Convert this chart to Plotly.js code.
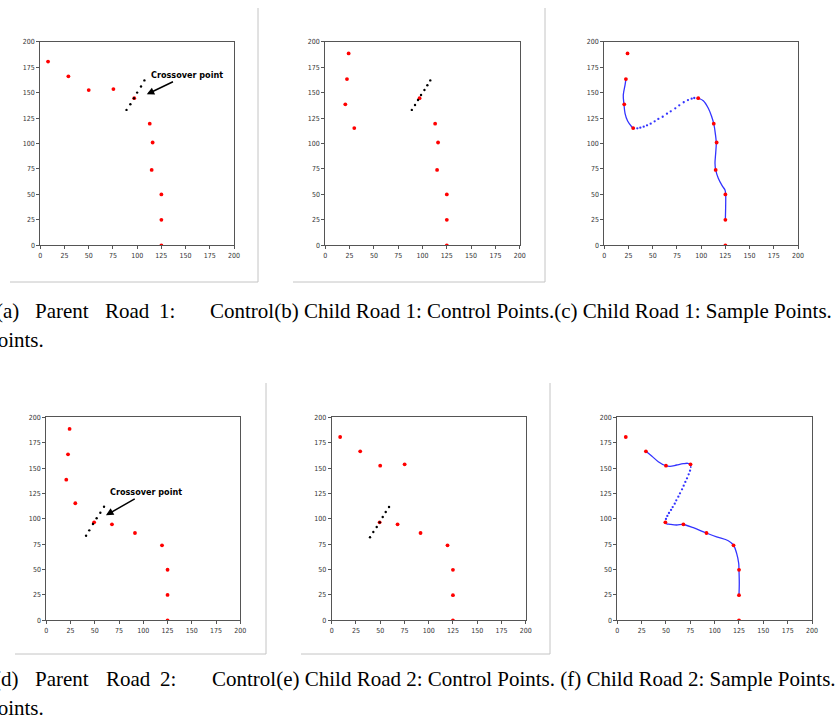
<!DOCTYPE html>
<html>
<head>
<meta charset="utf-8">
<script src="https://cdn.plot.ly/plotly-3.0.1.min.js"></script>
<style>html,body{margin:0;padding:0;background:#fff;}#chart{width:839px;height:717px;}</style>
</head>
<body>
<div id="chart"></div>
<script>
// ---------------- DATA ----------------
const tickValues = [0, 25, 50, 75, 100, 125, 150, 175, 200];
const tickLabels = ["0", "25", "50", "75", "100", "125", "150", "175", "200"];

// Road 1
const parent1X = [8, 29, 50, 75.5, 97, 113, 116, 115, 125, 125, 125];
const parent1Y = [180.5, 166, 152.5, 153.5, 144.5, 119.5, 101, 74, 50, 25, 0];
const crossA_X = [89, 93, 96.7, 100, 104, 107.5];
const crossA_Y = [133, 138.5, 144.4, 150, 156, 162];
const child1X = [24, 22.3, 20.6, 29.8, 97, 113, 116, 115, 125, 125, 125];
const child1Y = [188.5, 163.3, 138.5, 115.2, 144.5, 119.5, 101, 74, 50, 25, 0];
const crossB_X = [89, 92.3, 95.4, 98.5, 102, 105, 108];
const crossB_Y = [133, 137.8, 142.7, 147.6, 152.5, 157.2, 162];
const sample1DenseAX = [22.3, 21.4, 19.6, 20.3, 21.4, 24.1, 28.3, 29.8, 31.7];
const sample1DenseAY = [163, 157.4, 147.6, 138.8, 129.7, 122.1, 116.5, 115.2, 114.5];
const sample1SparseX = [34.1, 37.2, 40.7, 44.1, 47.9, 52, 55.8, 60.3, 64.7, 68.6, 73.3, 77.4, 82, 86.4, 90.2, 92.9];
const sample1SparseY = [114.9, 115.5, 116.5, 117.9, 119.5, 121.8, 124.1, 126.3, 129.3, 131.6, 134.6, 137.5, 140.5, 142.7, 144, 144.7];
const sample1DenseBX = [95.4, 97, 102.2, 107.4, 110.9, 113, 114.6, 115.6, 115, 114.3, 115, 117.7, 121.8, 124.6, 125.3, 125.3, 125];
const sample1DenseBY = [145, 144.5, 142, 134.6, 126.3, 119.5, 110, 100.8, 90.4, 80.5, 74, 65.8, 58.3, 54.3, 50, 37.9, 25];

// Road 2
const parent2X = [24, 22.4, 20.6, 29.9, 49.3, 67.7, 91.4, 119.3, 125, 125, 125];
const parent2Y = [188.5, 163.5, 138.5, 115.3, 96.5, 94.6, 86, 73.9, 49.8, 25, 0];
const crossD_X = [41, 44.3, 48.1, 51.9, 55.7, 59.5];
const crossD_Y = [83.3, 88.6, 94.9, 100.5, 106, 111.9];
const child2X = [8.7, 29.4, 50, 75.2, 49.4, 67.9, 91.6, 119.4, 125, 125, 125];
const child2Y = [180.6, 166.5, 152.3, 153.7, 96.5, 94.6, 86, 73.9, 49.7, 24.8, 0];
const crossE_X = [39.5, 42.9, 46.4, 49.5, 52.6, 55.7, 59.1];
const crossE_Y = [81.8, 87, 91.9, 96.5, 101.8, 106.7, 111.6];
const sample2DenseAX = [29.3, 35.3, 42.1, 49.3, 54.1, 61, 67.8, 72.3, 75, 75.5];
const sample2DenseAY = [166.5, 161.9, 156.3, 152.5, 151.7, 153, 154.3, 154.7, 153.8, 150];
const sample2SparseX = [74.7, 73.3, 71.6, 69.9, 68.2, 66.5, 64.4, 62.7, 60.6, 59, 56.9, 55.2, 53.1, 51.4, 50];
const sample2SparseY = [147.4, 143.8, 139.9, 136.3, 132.6, 129, 125.1, 121.8, 118.2, 114.9, 111.6, 108.7, 105.7, 102.8, 99.8];
const sample2DenseBX = [49.3, 50.5, 54.1, 61, 67.6, 78.1, 91.4, 102, 114, 119.5, 122.6, 124.7, 125, 125.3, 125];
const sample2DenseBY = [97.5, 95.2, 94.6, 93.9, 94.4, 91.2, 86, 82.2, 78.4, 73.8, 66, 56.2, 49.6, 36.5, 24.8];

// Arrow annotations: [headX, headY, textX, textY]
const arrowA = [109.9, 148.3, 151, 167];
const arrowD = [61.5, 103.4, 102.8, 126.1];
const arrowText = "Crossover point";

const captions = [
  {t: "(a)", px: 21, py: 311, a: "right"},
  {t: "Parent", px: 61.5, py: 311, a: "center"},
  {t: "Road", px: 127, py: 311, a: "center"},
  {t: "1:", px: 167, py: 311, a: "center"},
  {t: "Control(b) Child Road 1: Control Points.(c) Child Road 1: Sample Points.", px: 208, py: 311, a: "left"},
  {t: "Points.", px: 46, py: 340, a: "right"},
  {t: "(d)", px: 21, py: 679, a: "right"},
  {t: "Parent", px: 62, py: 679, a: "center"},
  {t: "Road", px: 128, py: 679, a: "center"},
  {t: "2:", px: 167.5, py: 679, a: "center"},
  {t: "Control(e) Child Road 2: Control Points. (f) Child Road 2: Sample Points.", px: 210, py: 679, a: "left"},
  {t: "Points.", px: 46, py: 708, a: "right"}
];

// ---------------- LAYOUT ----------------
const W = 839, H = 717;
const px = v => v / W;
const py = v => 1 - v / H;

// plot areas in pixels: [left, right, top, bottom]
const panels = [
  [40.3, 234, 41.7, 245.3],
  [325.3, 519.7, 41.7, 245.3],
  [604.3, 798, 41.7, 245.3],
  [46.3, 240.3, 417.3, 620.3],
  [331.7, 525.7, 417.3, 620.3],
  [617.3, 812, 417.3, 620.3]
];

const RED = "#ff0000";
const BLUE = "rgba(0,0,255,0.8)";
const traces = [];
function ax(i) { return i === 0 ? "" : String(i + 1); }
function redPts(i, X, Y) {
  traces.push({x: X, y: Y, xaxis: "x" + ax(i), yaxis: "y" + ax(i), mode: "markers", type: "scatter",
    marker: {color: RED, size: 3.8}, hoverinfo: "skip", showlegend: false});
}
function blackPts(i, X, Y) {
  traces.push({x: X, y: Y, xaxis: "x" + ax(i), yaxis: "y" + ax(i), mode: "markers", type: "scatter",
    marker: {color: "#000", size: 2.4}, hoverinfo: "skip", showlegend: false});
}
function blueLine(i, X, Y) {
  traces.push({x: X, y: Y, xaxis: "x" + ax(i), yaxis: "y" + ax(i), mode: "lines", type: "scatter",
    line: {color: BLUE, width: 1.3, shape: "spline", smoothing: 1}, hoverinfo: "skip", showlegend: false});
}
function blueDots(i, X, Y) {
  traces.push({x: X, y: Y, xaxis: "x" + ax(i), yaxis: "y" + ax(i), mode: "markers", type: "scatter",
    marker: {color: BLUE, size: 2.3}, hoverinfo: "skip", showlegend: false});
}

// (a)
redPts(0, parent1X, parent1Y); blackPts(0, crossA_X, crossA_Y);
// (b)
redPts(1, child1X, child1Y); blackPts(1, crossB_X, crossB_Y);
// (c)
blueLine(2, sample1DenseAX, sample1DenseAY); blueDots(2, sample1SparseX, sample1SparseY);
blueLine(2, sample1DenseBX, sample1DenseBY); redPts(2, child1X, child1Y);
// (d)
redPts(3, parent2X, parent2Y); blackPts(3, crossD_X, crossD_Y);
// (e)
redPts(4, child2X, child2Y); blackPts(4, crossE_X, crossE_Y);
// (f)
blueLine(5, sample2DenseAX, sample2DenseAY); blueDots(5, sample2SparseX, sample2SparseY);
blueLine(5, sample2DenseBX, sample2DenseBY); redPts(5, child2X, child2Y);

const tickFont = {family: "'Liberation Sans Narrow', 'DejaVu Sans Condensed', 'Arial Narrow', sans-serif", size: 7, color: "#333"};
const layout = {
  width: W, height: H, margin: {l: 0, r: 0, t: 0, b: 0},
  paper_bgcolor: "#fff", plot_bgcolor: "#fff", showlegend: false,
  annotations: [], shapes: []
};
panels.forEach((p, i) => {
  const common = {range: [0, 200], tickvals: tickValues, ticktext: tickLabels, showgrid: false, zeroline: false,
    showline: true, mirror: true, linecolor: "#555", linewidth: 1, ticks: "outside", ticklen: 3,
    tickcolor: "#555", tickwidth: 1, tickfont: tickFont, fixedrange: true};
  layout["xaxis" + ax(i)] = Object.assign({}, common, {domain: [px(p[0]), px(p[1])], anchor: "y" + ax(i)});
  layout["yaxis" + ax(i)] = Object.assign({}, common, {domain: [py(p[3]), py(p[2])], anchor: "x" + ax(i)});
});

function arrowAnn(i, a) {
  return {xref: "x" + ax(i), yref: "y" + ax(i), x: a[0], y: a[1], axref: "x" + ax(i), ayref: "y" + ax(i),
    ax: a[2], ay: a[3], text: "<b>" + arrowText + "</b>", showarrow: true, arrowhead: 2, arrowsize: 1,
    arrowwidth: 1.5, arrowcolor: "#000",
    font: {family: "'Liberation Sans Narrow', 'DejaVu Sans Condensed', 'Arial Narrow', sans-serif", size: 9, color: "#000"}};
}
layout.annotations.push(arrowAnn(0, arrowA));
layout.annotations.push(arrowAnn(3, arrowD));

captions.forEach(c => {
  layout.annotations.push({xref: "paper", yref: "paper", x: px(c.px), y: py(c.py), xanchor: c.a, yanchor: "middle",
    text: c.t, showarrow: false, font: {family: "'Liberation Serif', 'Times New Roman', serif", size: 21, color: "#000"}});
});

// light grey frame lines around panels (a), (b), (d), (e)
const frameLines = [
  [258, 8, 258, 282], [10, 282, 258, 282],
  [545, 8, 545, 282], [293, 282, 545, 282],
  [266, 383, 266, 654], [15, 654, 266, 654],
  [550, 383, 550, 654], [301, 654, 550, 654]
];
frameLines.forEach(f => {
  layout.shapes.push({type: "line", xref: "paper", yref: "paper", x0: px(f[0]), y0: py(f[1]), x1: px(f[2]), y1: py(f[3]),
    line: {color: "#c4c4c4", width: 1}});
});

Plotly.newPlot("chart", traces, layout, {staticPlot: true, displayModeBar: false});
</script>
</body>
</html>
